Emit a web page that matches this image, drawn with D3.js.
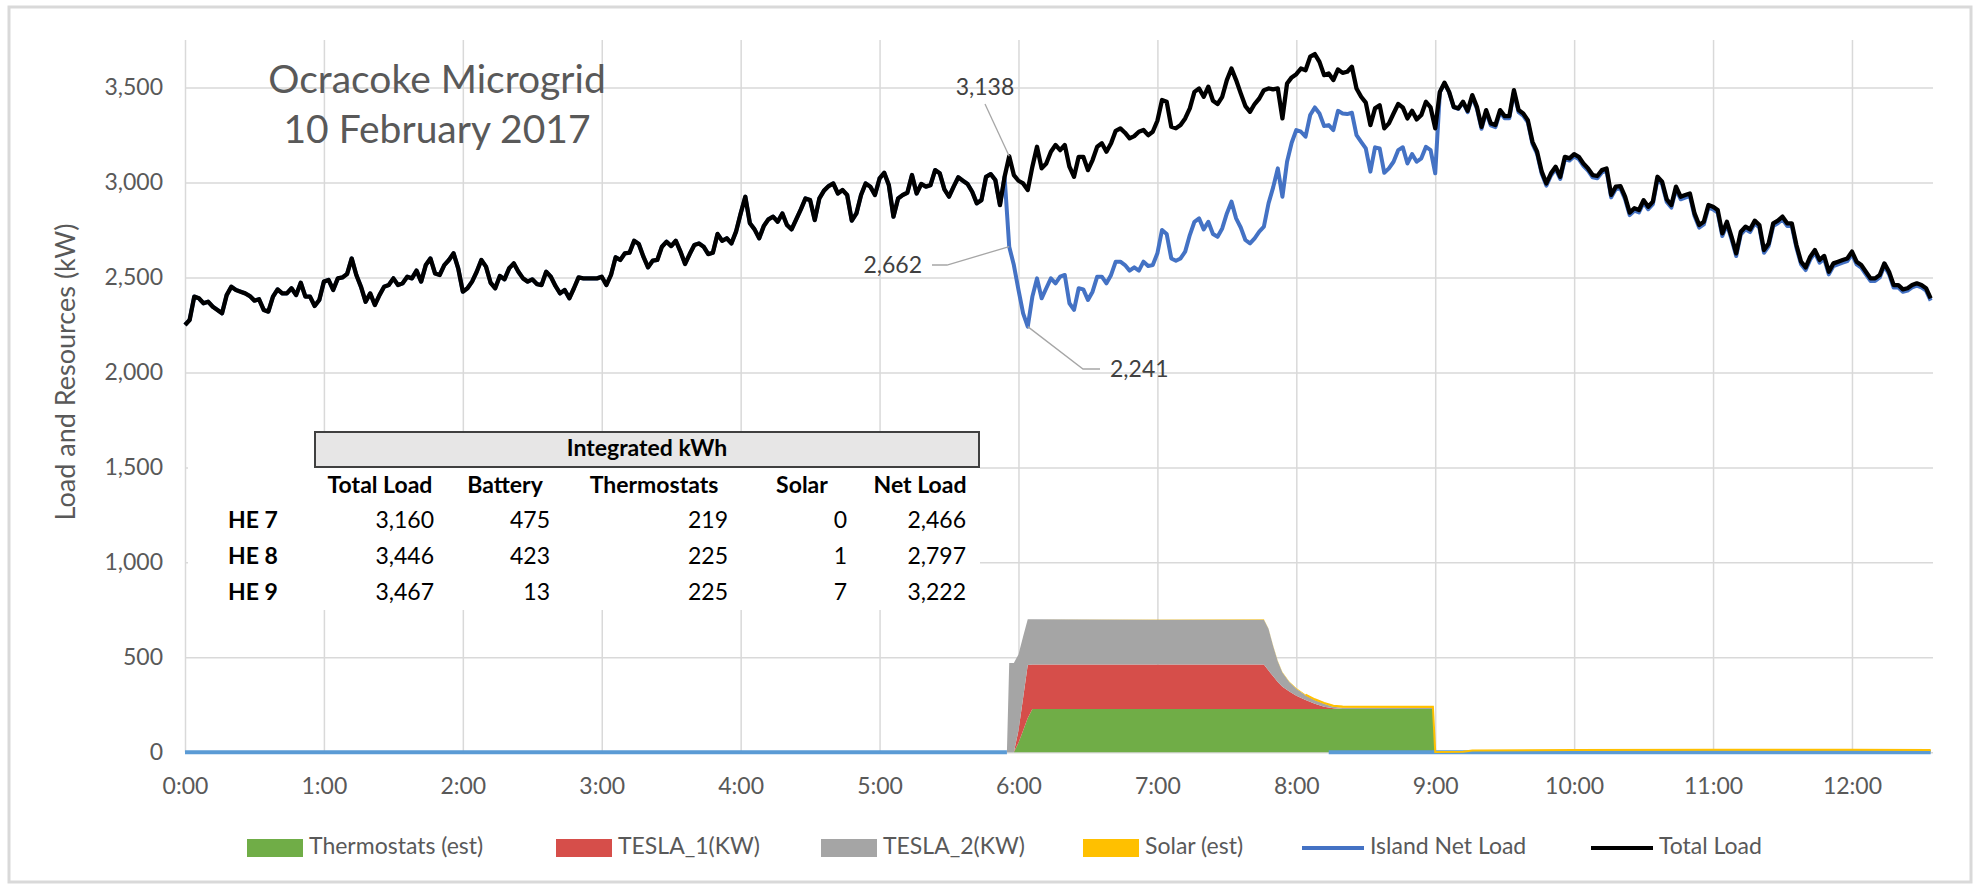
<!DOCTYPE html>
<html>
<head>
<meta charset="utf-8">
<script src="https://cdn.jsdelivr.net/npm/d3@7"></script>
<style>
  body { margin: 0; background: #fff; }
  text { font-family: Lato, "Open Sans", sans-serif; }
</style>
</head>
<body>
<svg id="chart" width="1977" height="889"></svg>
<script>
// ---- data ----
const STEP = 2; // minutes between samples of the load series

// Total Load (kW), every 2 minutes from 0:00
const totalLoad = [
  2250, 2276, 2399, 2390, 2364, 2372, 2346, 2329, 2311, 2407,
  2451, 2434, 2425, 2416, 2402, 2378, 2385, 2329, 2320, 2399,
  2437, 2416, 2416, 2443, 2407, 2472, 2399, 2399, 2350, 2381,
  2478, 2487, 2434, 2495, 2500, 2518, 2600, 2513, 2451, 2372,
  2416, 2355, 2407, 2451, 2460, 2495, 2460, 2469, 2504, 2495,
  2536, 2478, 2565, 2600, 2521, 2513, 2565, 2592, 2627, 2548,
  2425, 2443, 2478, 2530, 2592, 2557, 2472, 2443, 2508, 2490,
  2548, 2574, 2530, 2495, 2478, 2490, 2465, 2460, 2530, 2504,
  2455, 2416, 2434, 2390, 2443, 2500, 2495, 2495, 2495, 2495,
  2504, 2460, 2513, 2606,
  2592, 2627, 2630, 2693, 2676, 2609, 2553, 2588, 2592, 2662,
  2688, 2665, 2693, 2636, 2571, 2623, 2671, 2679, 2662, 2623,
  2630, 2729, 2693, 2706, 2679, 2741, 2837, 2925, 2785, 2753,
  2706, 2771, 2806, 2820, 2793, 2837, 2776, 2753, 2806, 2858,
  2916, 2907, 2802, 2916, 2957, 2981, 2995, 2942, 2960, 2934,
  2799, 2837, 2934, 2995, 2978, 2934, 3021, 3051, 2986, 2820,
  2916, 2934, 2946, 3039, 2942, 2992, 2978, 2986, 3065, 3048,
  2964, 2925, 2978, 3027, 3009, 2992, 2951, 2890, 2907, 3030,
  3044, 3013, 2881, 3030, 3138, 3039, 3009, 2995, 2960, 3083,
  3188, 3074, 3100, 3162, 3197,
  3170, 3197, 3083, 3030, 3135, 3135, 3065, 3118, 3188, 3206,
  3162, 3206, 3272, 3285, 3262, 3232, 3244, 3267, 3276, 3249,
  3267, 3325, 3434, 3425, 3293, 3285, 3302, 3337, 3390, 3477,
  3495, 3451, 3504, 3430, 3413, 3451, 3539, 3600, 3539, 3469,
  3402, 3372, 3413, 3442, 3486, 3495, 3490, 3495, 3337, 3521,
  3553, 3570, 3600, 3591, 3662, 3676, 3635, 3565, 3574, 3539,
  3595, 3577, 3583, 3609, 3495, 3451, 3420, 3302, 3390, 3407,
  3285, 3311, 3363, 3413, 3395, 3337, 3377, 3332, 3355, 3425,
  3395, 3285, 3477, 3525, 3477, 3398, 3390, 3425, 3377, 3460,
  3398, 3293, 3381, 3311, 3302,
  3381, 3349, 3349, 3486, 3381, 3363, 3328, 3214, 3162, 3057,
  2995, 3048, 3083, 3030, 3135, 3127, 3149, 3135, 3100, 3074,
  3039, 3034, 3065, 3074, 2934, 2978, 2981, 2925, 2841, 2864,
  2855, 2907, 2872, 2899, 3030, 3004, 2911, 2881, 2978, 2925,
  2934, 2942, 2837, 2776, 2793, 2881, 2872, 2855, 2732, 2793,
  2714, 2627, 2741, 2767, 2753, 2799, 2776, 2644, 2679, 2785,
  2799, 2820, 2785, 2785, 2671, 2583, 2553, 2609, 2644, 2592,
  2613, 2530, 2574, 2583, 2592, 2600, 2636, 2583, 2565, 2530,
  2495, 2495, 2513, 2574, 2530, 2460, 2460, 2437, 2443, 2460,
  2469, 2460, 2443, 2390
];

// Island Net Load (kW) where it departs from the total, 5:54 to 9:00
const NET_START = 354;
const netLoad = [
  3030, 2662, 2565, 2434, 2311, 2241, 2399, 2495, 2390, 2443,
  2495, 2469, 2504, 2513, 2364, 2329, 2443, 2437, 2381, 2425,
  2504, 2504, 2469, 2513, 2583, 2583, 2565, 2536, 2553, 2536,
  2583, 2560, 2565, 2627, 2750, 2729, 2600, 2588, 2600, 2636,
  2723, 2793, 2811, 2753, 2793, 2729, 2714, 2758, 2837, 2899,
  2811, 2763, 2697, 2679, 2706, 2741, 2767, 2890, 2974, 3074,
  2925, 3109, 3209, 3276, 3267, 3241, 3355, 3395, 3363, 3297,
  3302, 3276, 3377, 3363, 3360, 3367, 3249, 3214, 3179, 3057,
  3185, 3179, 3051, 3074, 3109, 3170, 3185, 3100, 3149, 3109,
  3127, 3188, 3170, 3048
];

// stacked resources (kW) at these minutes
const areaMinutes = [0, 354, 355, 356, 358, 360, 362, 364, 366, 420,
  466, 468, 470, 472, 474, 477, 480, 484, 488, 492,
  496, 500, 539, 540, 552, 556, 600, 660, 720, 754];
const thermostats = [0, 0, 0, 0, 0, 50, 115, 180, 228, 228,
  228, 228, 228, 228, 228, 228, 228, 228, 228, 228,
  228, 228, 228, 0, 0, 0, 0, 0, 0, 0];
const tesla1 = [0, 0, 0, 0, 0, 65, 171, 280, 234, 234,
  234, 202, 172, 142, 117, 92, 70, 47, 27, 12,
  4, 0, 0, 0, 0, 0, 0, 0, 0, 0];
const tesla2 = [0, 0, 0, 470, 470, 400, 324, 240, 238, 236,
  236, 220, 160, 110, 75, 50, 37, 25, 20, 15,
  8, 7, 5, 0, 0, 0, 0, 0, 0, 0];
const solar = [0, 0, 0, 0, 0, 0, 0, 0, 0, 1,
  2, 2, 2, 2, 3, 3, 3, 4, 4, 5,
  5, 6, 7, 2, 3, 10, 12, 14, 14, 12];

// light blue series sitting on zero (hidden below the axis in between)
const zeroSegments = [[0, 355], [494, 754]];

const yTicks = [0, 500, 1000, 1500, 2000, 2500, 3000, 3500];
const xTickMinutes = [0, 60, 120, 180, 240, 300, 360, 420, 480, 540, 600, 660, 720];
const xTickLabels = ['0:00', '1:00', '2:00', '3:00', '4:00', '5:00', '6:00', '7:00', '8:00', '9:00', '10:00', '11:00', '12:00'];

const tableColumns = ['Total Load', 'Battery', 'Thermostats', 'Solar', 'Net Load'];
const tableRows = ['HE 7', 'HE 8', 'HE 9'];
const tableValues = [
  [3160, 475, 219, 0, 2466],
  [3446, 423, 225, 1, 2797],
  [3467, 13, 225, 7, 3222]
];

const labels = [
  { minute: 356, value: 3138, text: '3,138' },
  { minute: 356, value: 2662, text: '2,662' },
  { minute: 364, value: 2241, text: '2,241' }
];

// ---- drawing ----
const svg = d3.select('#chart');
const plotL = 185, plotR = 1933, plotT = 40, plotB = 752.3;

const x = d3.scaleLinear().domain([0, 755]).range([plotL, plotR]);
const y = d3.scaleLinear().domain([0, 3750]).range([plotB, plotT]);

svg.append('rect').attr('width', 1977).attr('height', 889).attr('fill', '#fff');
svg.append('rect')
  .attr('x', 9).attr('y', 7).attr('width', 1962).attr('height', 875)
  .attr('fill', 'none').attr('stroke', '#d9d9d9').attr('stroke-width', 3);

// y axis + horizontal gridlines
const yAxis = svg.append('g')
  .attr('transform', `translate(${plotL},0)`)
  .call(d3.axisLeft(y).tickValues(yTicks).tickFormat(d3.format(','))
    .tickSize(-(plotR - plotL)).tickPadding(22));
yAxis.select('.domain').remove();
yAxis.selectAll('line').attr('stroke', '#d9d9d9').attr('stroke-width', 1.5);
yAxis.selectAll('text').attr('fill', '#595959').attr('font-size', 23)
  .style('font-family', 'Lato, sans-serif');

// x axis + vertical gridlines
const xAxis = svg.append('g')
  .attr('transform', `translate(0,${plotB})`)
  .call(d3.axisBottom(x).tickValues(xTickMinutes).tickFormat((d, i) => xTickLabels[i])
    .tickSize(-(plotB - plotT)).tickPadding(25));
xAxis.select('.domain').remove();
xAxis.selectAll('line').attr('stroke', '#d9d9d9').attr('stroke-width', 1.5);
xAxis.selectAll('text').attr('fill', '#595959').attr('font-size', 23)
  .style('font-family', 'Lato, sans-serif');

// axis title
svg.append('text')
  .attr('transform', 'translate(68,372) rotate(-90)')
  .attr('text-anchor', 'middle').attr('dominant-baseline', 'middle')
  .attr('font-size', 27).attr('fill', '#595959')
  .text('Load and Resources (kW)');

// stacked areas
const rows = areaMinutes.map((m, i) => ({
  minute: m, thermostats: thermostats[i], tesla1: tesla1[i], tesla2: tesla2[i], solar: solar[i]
}));
const keys = ['thermostats', 'tesla1', 'tesla2', 'solar'];
const colors = { thermostats: '#70ad47', tesla1: '#d64e4a', tesla2: '#a5a5a5', solar: '#ffc000' };
const stacked = d3.stack().keys(keys)(rows);
const area = d3.area()
  .x(d => x(d.data.minute))
  .y0(d => y(d[0]))
  .y1(d => y(d[1]));
svg.append('g').selectAll('path')
  .data(stacked)
  .join('path')
  .attr('d', area)
  .attr('fill', d => colors[d.key]);

// zero series
zeroSegments.forEach(seg => {
  svg.append('line')
    .attr('x1', x(seg[0])).attr('x2', x(seg[1]))
    .attr('y1', y(0)).attr('y2', y(0))
    .attr('stroke', '#5b9bd5').attr('stroke-width', 4);
});

// solar edge on top of the stack (visible once it is more than a trace)
const solarLayer = stacked[3];
svg.append('path')
  .datum(solarLayer)
  .attr('fill', 'none').attr('stroke', '#ffc000').attr('stroke-width', 2)
  .attr('d', d3.line()
    .defined(d => d.data.solar >= 4 || (d.data.minute >= 540 && d.data.solar > 0))
    .x(d => x(d.data.minute)).y(d => y(d[1])));

// lines
const solarAt = d3.scaleLinear().domain(areaMinutes).range(solar).clamp(true);
const netEnd = NET_START + (netLoad.length - 1) * STEP;
const netSeries = totalLoad.map((v, i) => {
  const m = i * STEP;
  if (m >= NET_START && m <= netEnd) return netLoad[(m - NET_START) / STEP];
  return v - solarAt(m);
});

const line = d3.line().x((d, i) => x(i * STEP)).y(d => y(d));

svg.append('path')
  .datum(netSeries)
  .attr('fill', 'none').attr('stroke', '#4472c4').attr('stroke-width', 4)
  .attr('stroke-linejoin', 'round')
  .attr('d', line);

svg.append('path')
  .datum(totalLoad)
  .attr('fill', 'none').attr('stroke', '#000').attr('stroke-width', 4.3)
  .attr('stroke-linejoin', 'round')
  .attr('d', line);

// data labels with leader lines
const leaderColor = '#a6a6a6';
const lab = svg.append('g').attr('font-size', 23).attr('fill', '#404040');
// 3,138
lab.append('path')
  .attr('d', `M985,104L${x(labels[0].minute)},${y(labels[0].value)}`)
  .attr('stroke', leaderColor).attr('stroke-width', 1.3).attr('fill', 'none');
lab.append('text').attr('x', 985).attr('y', 95).attr('text-anchor', 'middle').text(labels[0].text);
// 2,662
lab.append('path')
  .attr('d', `M932,265L947,265L${x(labels[1].minute)},${y(labels[1].value)}`)
  .attr('stroke', leaderColor).attr('stroke-width', 1.3).attr('fill', 'none');
lab.append('text').attr('x', 922).attr('y', 273).attr('text-anchor', 'end').text(labels[1].text);
// 2,241
lab.append('path')
  .attr('d', `M${x(labels[2].minute)},${y(labels[2].value)}L1083,369L1100,369`)
  .attr('stroke', leaderColor).attr('stroke-width', 1.3).attr('fill', 'none');
lab.append('text').attr('x', 1110).attr('y', 377).text(labels[2].text);

// title
const title = svg.append('text').attr('text-anchor', 'middle')
  .attr('font-size', 39).attr('fill', '#595959');
title.append('tspan').attr('x', 437).attr('y', 93).text('Ocracoke Microgrid');
title.append('tspan').attr('x', 437).attr('y', 143).text('10 February 2017');

// table
const tbl = svg.append('g').attr('font-size', 23).attr('fill', '#000');
tbl.append('rect').attr('x', 188).attr('y', 432).attr('width', 792).attr('height', 178).attr('fill', '#fff');
tbl.append('rect').attr('x', 315).attr('y', 432).attr('width', 664).attr('height', 35)
  .attr('fill', '#e7e6e6').attr('stroke', '#404040').attr('stroke-width', 2);
tbl.append('text').attr('x', 647).attr('y', 450).attr('text-anchor', 'middle')
  .attr('dominant-baseline', 'middle').attr('font-weight', 'bold').text('Integrated kWh');

const headerX = [380, 505, 654, 802, 920];
const valueRight = [434, 550, 728, 847, 966];
const rowY = [522, 558, 594];
tableColumns.forEach((c, j) => {
  tbl.append('text').attr('x', headerX[j]).attr('y', 487)
    .attr('text-anchor', 'middle').attr('dominant-baseline', 'middle')
    .attr('font-weight', 'bold').text(c);
});
tableRows.forEach((r, i) => {
  tbl.append('text').attr('x', 228).attr('y', rowY[i])
    .attr('dominant-baseline', 'middle').attr('font-weight', 'bold').text(r);
  tableValues[i].forEach((v, j) => {
    tbl.append('text').attr('x', valueRight[j]).attr('y', rowY[i])
      .attr('text-anchor', 'end').attr('dominant-baseline', 'middle')
      .text(d3.format(',')(v));
  });
});

// legend
const legendItems = [
  { name: 'Thermostats (est)', color: '#70ad47', type: 'rect', x: 247 },
  { name: 'TESLA_1(KW)', color: '#d64e4a', type: 'rect', x: 556 },
  { name: 'TESLA_2(KW)', color: '#a5a5a5', type: 'rect', x: 821 },
  { name: 'Solar (est)', color: '#ffc000', type: 'rect', x: 1083 },
  { name: 'Island Net Load', color: '#4472c4', type: 'line', x: 1302 },
  { name: 'Total Load', color: '#000', type: 'line', x: 1591 }
];
const leg = svg.append('g').attr('font-size', 23).attr('fill', '#595959');
const ly = 848;
legendItems.forEach(it => {
  if (it.type === 'rect') {
    leg.append('rect').attr('x', it.x).attr('y', ly - 9).attr('width', 56).attr('height', 18)
      .attr('fill', it.color);
    leg.append('text').attr('x', it.x + 62).attr('y', ly).attr('dominant-baseline', 'middle').text(it.name);
  } else {
    leg.append('line').attr('x1', it.x).attr('x2', it.x + 62).attr('y1', ly).attr('y2', ly)
      .attr('stroke', it.color).attr('stroke-width', 4);
    leg.append('text').attr('x', it.x + 68).attr('y', ly).attr('dominant-baseline', 'middle').text(it.name);
  }
});
</script>
</body>
</html>
